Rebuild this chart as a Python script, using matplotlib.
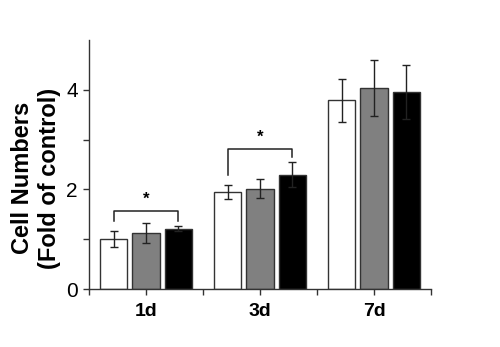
import matplotlib
matplotlib.use('Agg')
import matplotlib.pyplot as plt
import numpy as np

plt.rcParams['font.family'] = ['Liberation Sans', 'DejaVu Sans']

# time points and the three groups
days = ['1d', '3d', '7d']
white_vals = [1.00, 1.94, 3.79]
white_err = [0.16, 0.14, 0.43]
gray_vals = [1.13, 2.01, 4.03]
gray_err = [0.20, 0.19, 0.56]
black_vals = [1.21, 2.29, 3.95]
black_err = [0.05, 0.25, 0.54]

fig = plt.figure(figsize=(5.0, 3.47), dpi=100)
ax = fig.add_axes([0.178, 0.167, 0.684, 0.718])

x = np.arange(1, len(days) + 1)
w = 0.237
off = 0.284
groups = [(white_vals, white_err, 'white'),
          (gray_vals, gray_err, '#808080'),
          (black_vals, black_err, 'black')]
for i, (vals, errs, col) in enumerate(groups):
    ax.bar(x + (i - 1) * off, vals, w, color=col, edgecolor='#333333',
           linewidth=1.0, zorder=2)
    ax.errorbar(x + (i - 1) * off, vals, yerr=errs, fmt='none',
                ecolor='#222222', elinewidth=1.0, capsize=3, capthick=1.0,
                zorder=3)


def bracket(x1, x2, y, y1, y2, ax=ax):
    ax.plot([x1, x1, x2, x2], [y1, y, y, y2], color='#222222', lw=1.1,
            zorder=4)
    ax.text((x1 + x2) / 2, y + 0.08, '*', ha='center', va='bottom',
            fontsize=12, fontweight='bold')


bracket(x[0] - off, x[0] + off, 1.57, 1.37, 1.37)
bracket(x[1] - off, x[1] + off, 2.82, 2.29, 2.65)

ax.set_xlim(0.5, 3.5)
ax.set_ylim(0, 5)
ax.set_xticks(x)
ax.set_xticklabels(days, fontsize=14, fontweight='bold')
ax.set_xticks([0.5, 1.5, 2.5, 3.5], minor=True)
ax.set_yticks([0, 2, 4])
ax.set_yticklabels(['0', '2', '4'], fontsize=15)
ax.set_yticks([1, 3], minor=True)
ax.tick_params(axis='both', which='both', direction='out', length=4,
               width=1, color='#333333')
ax.tick_params(axis='x', pad=6)
ax.tick_params(axis='y', pad=4)
for s in ['top', 'right']:
    ax.spines[s].set_visible(False)
for s in ['left', 'bottom']:
    ax.spines[s].set_color('#333333')
    ax.spines[s].set_linewidth(1.0)

fig.text(0.072, 0.487, 'Cell Numbers\n(Fold of control)', rotation=90,
         ha='center', va='center', fontsize=17, fontweight='bold',
         linespacing=1.2)

fig.savefig('out.png', dpi=100)
